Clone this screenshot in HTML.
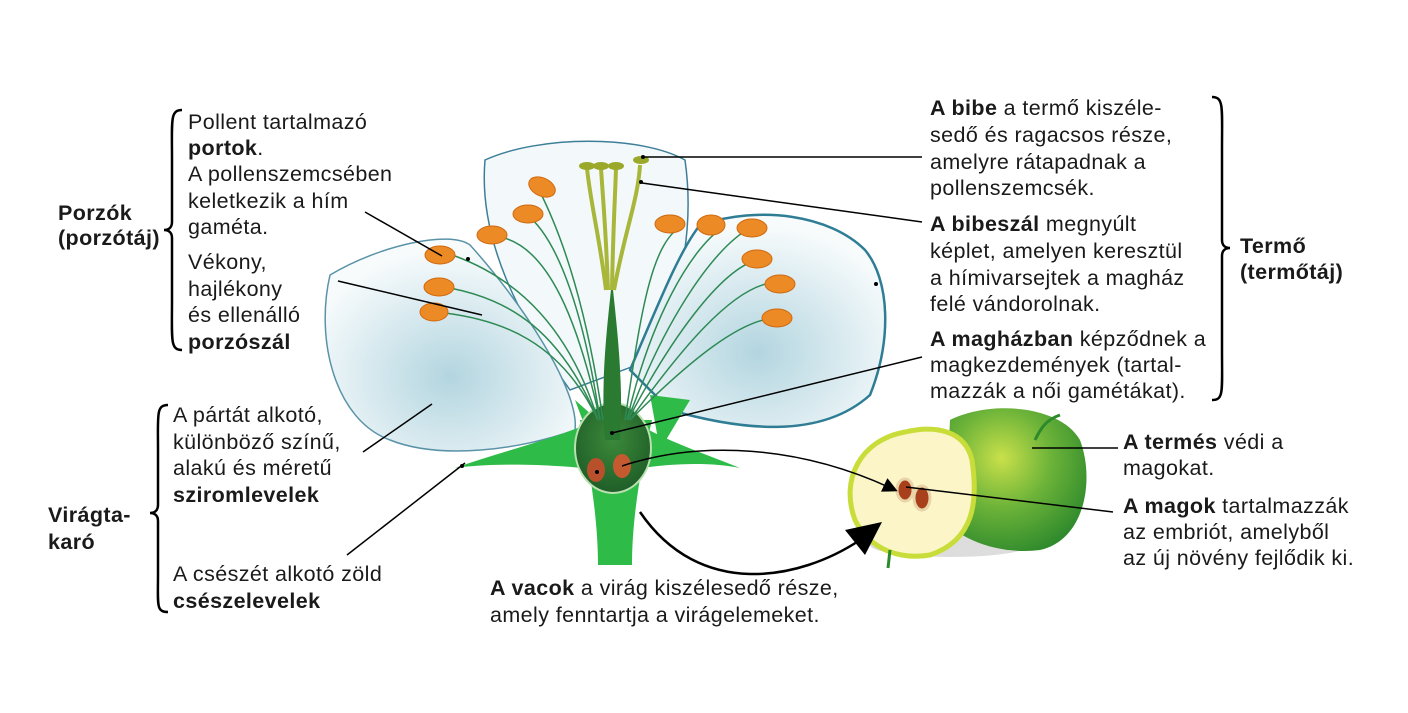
<!DOCTYPE html>
<html><head><meta charset="utf-8"><style>
body{margin:0;background:#fff}
svg{display:block}
text{font-family:"Liberation Sans",sans-serif;font-size:21.5px;letter-spacing:0.4px;fill:#1a1a1a}
.b{font-weight:bold}
</style></head><body>
<svg width="1408" height="713" viewBox="0 0 1408 713" xmlns="http://www.w3.org/2000/svg">
<defs>
<radialGradient id="pet" cx="0.5" cy="0.65" r="0.6"><stop offset="0" stop-color="#b3d5e0"/><stop offset="1" stop-color="#f7fbfc"/></radialGradient>
<radialGradient id="ap" cx="0.4" cy="0.35" r="0.7"><stop offset="0" stop-color="#c9e04a"/><stop offset="0.5" stop-color="#6cb339"/><stop offset="1" stop-color="#2f8a2c"/></radialGradient>
<radialGradient id="ov" cx="0.5" cy="0.4" r="0.6"><stop offset="0" stop-color="#3c8a3a"/><stop offset="1" stop-color="#1f5e28"/></radialGradient>
<marker id="ah" markerWidth="10" markerHeight="10" refX="8" refY="5" orient="auto"><path d="M0,0 L10,5 L0,10 z" fill="#000"/></marker>
</defs>
<!-- petals -->
<path d="M485,160 C540,135 640,135 685,160 C695,230 680,300 650,360 L570,390 C520,320 478,240 485,160 Z" fill="#f3f8fa" stroke="#3d7f99" stroke-width="1.5"/>
<path d="M330,275 C380,245 450,230 470,245 C520,300 580,390 575,430 C520,450 440,460 390,440 C335,420 315,340 330,275 Z" fill="url(#pet)" stroke="#5a93a8" stroke-width="1.5"/>
<path d="M700,225 C760,205 830,215 865,250 C890,280 892,340 870,395 C820,440 740,430 670,410 L630,370 C660,300 680,250 700,225 Z" fill="url(#pet)" stroke="#2f7d95" stroke-width="2.5"/>
<!-- sepals -->
<path d="M575,400 L592,415 L590,440 Z" fill="#2fbb48"/>
<path d="M650,395 L690,400 L660,450 Z" fill="#2fbb48"/>
<path d="M455,468 C500,452 550,440 585,425 L600,470 C560,465 500,462 455,468 Z" fill="#2fbb48"/>
<path d="M740,468 C700,452 665,440 640,425 L630,470 C670,463 710,462 740,468 Z" fill="#2fbb48"/>
<path d="M580,420 C590,470 598,520 598,565 L632,565 C632,520 640,470 652,420 Z" fill="#2fbb48"/>
<!-- ovary -->
<ellipse cx="613" cy="448" rx="38" ry="45" fill="url(#ov)" stroke="#b9e0b0" stroke-width="2"/>
<path d="M605,440 C600,380 608,320 612,280 C616,320 624,380 620,440 Z" fill="#2a7a32"/>
<ellipse cx="596" cy="470" rx="9" ry="12" fill="#b8502c"/><ellipse cx="622" cy="466" rx="9" ry="12" fill="#c55a30"/>
<!-- styles -->
<g stroke="#a8b63a" stroke-width="4" fill="none">
<path d="M606,290 C600,240 590,200 587,168"/><path d="M608,290 C606,230 603,200 601,168"/><path d="M612,290 C613,230 615,200 616,168"/><path d="M614,290 C625,230 638,200 640,165"/>
</g>
<g fill="#9aa92a"><ellipse cx="587" cy="166" rx="8" ry="4"/><ellipse cx="601" cy="166" rx="8" ry="4"/><ellipse cx="616" cy="166" rx="8" ry="4"/><ellipse cx="641" cy="160" rx="8" ry="4"/></g>
<!-- filaments -->
<g stroke="#2e8a55" stroke-width="1.5" fill="none">
<path d="M598,420 C570,330 520,280 455,256"/><path d="M598,420 C560,330 510,300 450,288"/><path d="M598,420 C560,340 500,320 445,313"/>
<path d="M600,420 C580,330 550,240 493,236"/><path d="M600,420 C585,320 560,240 526,214"/><path d="M603,420 C590,330 570,250 538,188"/>
<path d="M625,420 C640,320 650,240 684,225"/><path d="M627,420 C650,320 690,250 722,228"/><path d="M628,420 C660,330 710,250 750,228"/>
<path d="M628,420 C670,340 720,270 757,260"/><path d="M630,420 C680,350 730,290 770,283"/><path d="M630,420 C690,360 740,320 775,318"/>
</g>
<g fill="#ec8a25" stroke="#d06a10" stroke-width="1">
<ellipse cx="440" cy="255" rx="15" ry="9"/><ellipse cx="439" cy="287" rx="15" ry="9"/><ellipse cx="434" cy="312" rx="14" ry="9"/>
<ellipse cx="492" cy="235" rx="15" ry="9"/><ellipse cx="528" cy="214" rx="15" ry="9"/><ellipse cx="542" cy="187" rx="14" ry="9" transform="rotate(25 542 187)"/>
<ellipse cx="670" cy="224" rx="15" ry="9"/><ellipse cx="711" cy="225" rx="14" ry="10"/><ellipse cx="752" cy="228" rx="15" ry="9"/>
<ellipse cx="757" cy="259" rx="15" ry="9"/><ellipse cx="780" cy="284" rx="15" ry="9"/><ellipse cx="777" cy="318" rx="15" ry="9"/>
</g>
<!-- apple -->
<ellipse cx="950" cy="545" rx="80" ry="12" fill="#ddd"/>
<path d="M950,420 C990,400 1060,405 1080,440 C1095,480 1085,540 1040,550 C1000,555 960,540 945,520 Z" fill="url(#ap)"/>
<path d="M1035,440 C1040,430 1045,420 1060,415" stroke="#2c8a2c" stroke-width="3" fill="none"/>
<path d="M905,432 C935,425 965,430 972,460 C978,500 975,540 930,555 C900,560 870,550 855,520 C840,480 860,440 905,432 Z" fill="#fbf5c8" stroke="#c9dd3a" stroke-width="5"/>
<ellipse cx="905" cy="490" rx="8" ry="11" fill="#a8401c" stroke="#e8d4a8" stroke-width="3"/>
<ellipse cx="922" cy="498" rx="8" ry="12" fill="#a8401c" stroke="#e8d4a8" stroke-width="3"/>
<path d="M890,550 L888,568" stroke="#2c8a2c" stroke-width="3"/>
<!-- leader lines -->
<g stroke="#000" stroke-width="1.5" fill="none">
<line x1="365" y1="212" x2="442" y2="256"/><line x1="338" y1="281" x2="482" y2="315"/>
<line x1="363" y1="452" x2="432" y2="404"/><line x1="347" y1="555" x2="465" y2="463"/>
<line x1="922" y1="157" x2="643" y2="157"/><line x1="922" y1="222" x2="642" y2="183"/>
<line x1="922" y1="357" x2="612" y2="433"/>
<path d="M622,466 C700,440 800,445 895,490" marker-end="url(#ah)"/>
<line x1="1118" y1="448" x2="1032" y2="448"/><line x1="1113" y1="512" x2="906" y2="487"/>
</g>
<path d="M640,512 C700,600 800,580 860,540" stroke="#000" stroke-width="2.5" fill="none"/>
<path d="M845,530 L882,522 L865,555 Z" fill="#000"/>
<g fill="#000"><circle cx="468" cy="259" r="2"/><circle cx="876" cy="284" r="2"/><circle cx="462" cy="466" r="2"/><circle cx="643" cy="157" r="2"/><circle cx="641" cy="182" r="2"/><circle cx="612" cy="433" r="2"/><circle cx="597" cy="472" r="2"/></g>
<!-- brackets -->
<g stroke="#000" stroke-width="2.5" fill="none">
<path d="M182,110 C170,110 172,120 172,160 L172,222 C172,228 168,230 164,230 C168,230 172,232 172,238 L172,300 C172,340 170,350 182,350"/>
<path d="M168,405 C156,405 158,415 158,450 L158,505 C158,511 154,513 150,513 C154,513 158,515 158,521 L158,575 C158,605 156,612 168,612"/>
<path d="M1212,97 C1224,97 1222,107 1222,150 L1222,240 C1222,246 1226,248 1230,248 C1226,248 1222,250 1222,256 L1222,350 C1222,392 1224,400 1212,400"/>
</g>
<!-- text -->
<text x="58" y="220" class="b">Porzók</text><text x="58" y="245" class="b">(porzótáj)</text>
<text x="188" y="129">Pollent tartalmazó</text>
<text x="188" y="155"><tspan class="b">portok</tspan>.</text>
<text x="188" y="181">A pollenszemcsében</text>
<text x="188" y="208">keletkezik a hím</text>
<text x="188" y="234">gaméta.</text>
<text x="188" y="269">Vékony,</text>
<text x="188" y="296">hajlékony</text>
<text x="188" y="322">és ellenálló</text>
<text x="188" y="349" class="b">porzószál</text>
<text x="48" y="522" class="b">Virágta-</text><text x="48" y="549" class="b">karó</text>
<text x="173" y="422">A pártát alkotó,</text>
<text x="173" y="449">különböző színű,</text>
<text x="173" y="475">alakú és méretű</text>
<text x="173" y="502" class="b">sziromlevelek</text>
<text x="173" y="581">A csészét alkotó zöld</text>
<text x="173" y="608" class="b">csészelevelek</text>
<text x="930" y="115"><tspan class="b">A bibe</tspan> a termő kiszéle-</text>
<text x="930" y="142">sedő és ragacsos része,</text>
<text x="930" y="169">amelyre rátapadnak a</text>
<text x="930" y="195">pollenszemcsék.</text>
<text x="930" y="231"><tspan class="b">A bibeszál</tspan> megnyúlt</text>
<text x="930" y="258">képlet, amelyen keresztül</text>
<text x="930" y="285">a hímivarsejtek a magház</text>
<text x="930" y="311">felé vándorolnak.</text>
<text x="930" y="346"><tspan class="b">A magházban</tspan> képződnek a</text>
<text x="930" y="372">magkezdemények (tartal-</text>
<text x="930" y="398">mazzák a női gamétákat).</text>
<text x="1240" y="253" class="b">Termő</text><text x="1240" y="279" class="b">(termőtáj)</text>
<text x="1123" y="449"><tspan class="b">A termés</tspan> védi a</text>
<text x="1123" y="475">magokat.</text>
<text x="1123" y="513"><tspan class="b">A magok</tspan> tartalmazzák</text>
<text x="1123" y="539">az embriót, amelyből</text>
<text x="1123" y="565">az új növény fejlődik ki.</text>
<text x="490" y="595"><tspan class="b">A vacok</tspan> a virág kiszélesedő része,</text>
<text x="490" y="622">amely fenntartja a virágelemeket.</text>
</svg>
</body></html>
